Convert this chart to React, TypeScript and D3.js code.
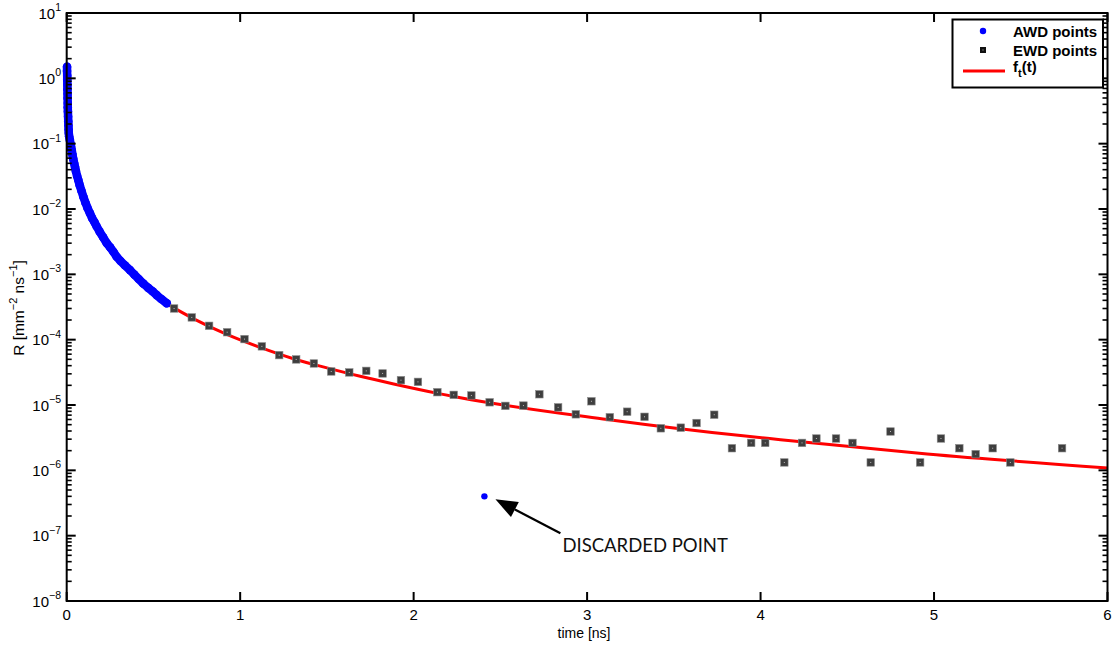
import React from 'react';
import * as d3 from 'd3';

// AWD points (time [ns], R)
const awdT = [0.002, 0.002, 0.003, 0.003, 0.004, 0.004, 0.005, 0.005, 0.006, 0.006, 0.007, 0.008, 0.009, 0.010, 0.011, 0.012, 0.014,
  0.018, 0.022, 0.025, 0.029, 0.033, 0.038, 0.043, 0.048, 0.053, 0.060, 0.067, 0.075, 0.085, 0.096, 0.108, 0.120, 0.134, 0.147,
  0.160, 0.173, 0.190, 0.210, 0.231, 0.250, 0.270, 0.288, 0.310, 0.335, 0.365, 0.390, 0.415, 0.442, 0.470, 0.495, 0.519, 0.545, 0.577];
const awdR = [1.5, 1.3, 1.1, 0.95, 0.8, 0.68, 0.58, 0.5, 0.42, 0.36, 0.31, 0.26, 0.22, 0.19, 0.165, 0.145, 0.13,
  0.115, 0.100, 0.090, 0.080, 0.068, 0.058, 0.050, 0.044, 0.038, 0.032, 0.0277, 0.023, 0.019, 0.0154, 0.0125, 0.0104, 0.0086, 0.0072,
  0.0063, 0.0054, 0.0045, 0.0037, 0.0030, 0.0026, 0.0022, 0.00186, 0.00160, 0.00138, 0.00116, 0.00099, 0.00085, 0.00072, 0.00062, 0.00055, 0.00048, 0.00042, 0.00036];

// EWD points
const ewdT = [0.619, 0.721, 0.821, 0.925, 1.025, 1.125, 1.225, 1.323, 1.425, 1.525, 1.629, 1.727, 1.821, 1.927, 2.025, 2.137, 2.231,
  2.333, 2.438, 2.529, 2.633, 2.725, 2.833, 2.935, 3.025, 3.131, 3.231, 3.331, 3.425, 3.54, 3.631, 3.733, 3.835, 3.946, 4.027,
  4.137, 4.239, 4.322, 4.435, 4.53, 4.635, 4.749, 4.92, 5.04, 5.146, 5.24, 5.338, 5.44, 5.738];
const ewdR = [3.0e-4, 2.19e-4, 1.63e-4, 1.30e-4, 1.02e-4, 7.9e-5, 5.8e-5, 4.98e-5, 4.32e-5, 3.26e-5, 3.15e-5, 3.33e-5, 3.04e-5, 2.4e-5,
  2.26e-5, 1.57e-5, 1.43e-5, 1.4e-5, 1.1e-5, 9.7e-6, 9.8e-6, 1.46e-5, 9.2e-6, 7.2e-6, 1.14e-5, 6.5e-6, 7.9e-6, 6.6e-6, 4.4e-6, 4.5e-6,
  5.3e-6, 7.1e-6, 2.18e-6, 2.63e-6, 2.63e-6, 1.32e-6, 2.63e-6, 3.07e-6, 3.07e-6, 2.63e-6, 1.32e-6, 3.93e-6, 1.32e-6, 3.07e-6, 2.18e-6,
  1.77e-6, 2.18e-6, 1.32e-6, 2.18e-6];

// fit f_t(t)
const fitT = [0.58, 0.73, 0.923, 1.115, 1.307, 1.5, 1.692, 1.885, 2.154, 2.27, 3.116, 3.885, 4.115, 4.96, 6.0];
const fitR = [3.5e-4, 2.1e-4, 1.2e-4, 7.6e-5, 5.1e-5, 3.7e-5, 2.75e-5, 2.1e-5, 1.48e-5, 1.29e-5, 6.0e-6, 3.4e-6, 2.95e-6, 1.78e-6, 1.09e-6];

// discarded point
const discT = [2.408];
const discR = [4.0e-7];

const xTicks = [0, 1, 2, 3, 4, 5, 6];
const yExps = [-8, -7, -6, -5, -4, -3, -2, -1, 0, 1];

const W = 1115, H = 645;
const L = 66.7, R = 1107.5, T = 13, B = 601;

export default function App() {
  const x = d3.scaleLinear().domain([0, 6]).range([L, R]);
  const y = d3.scaleLog().domain([1e-8, 10]).range([B, T]);

  const minor: number[] = [];
  for (let e = -8; e < 1; e++) for (let m = 2; m <= 9; m++) minor.push(m * Math.pow(10, e));

  const awdPts = awdT.map((t, i) => [x(t), y(awdR[i])] as [number, number]);
  const awdPath = d3.line().curve(d3.curveLinear)(awdPts) || '';
  const fitPath = d3.line<number>().x((_, i) => x(fitT[i])).y((_, i) => y(fitR[i])).curve(d3.curveMonotoneX)(fitT) || '';

  const font = '"Liberation Sans", Arial, Helvetica, sans-serif';

  // annotation
  const dx = x(discT[0]), dy = y(discR[0]);
  const tip = [dx + 11, dy + 3];
  const tail = [dx + 76, dy + 37];
  const ang = Math.atan2(tail[1] - tip[1], tail[0] - tip[0]);
  const hl = 22, hw = 8.5;
  const bx = tip[0] + hl * Math.cos(ang), by = tip[1] + hl * Math.sin(ang);
  const w1 = [bx - hw * Math.sin(ang), by + hw * Math.cos(ang)];
  const w2 = [bx + hw * Math.sin(ang), by - hw * Math.cos(ang)];

  return (
    <svg width={W} height={H} style={{ position: 'absolute', left: 0, top: 0, background: '#fff' }} fontFamily={font}>
      <rect x={0} y={0} width={W} height={H} fill="#fff" />
      {/* fit line */}
      <path d={fitPath} fill="none" stroke="#ff0000" strokeWidth={3} />
      {/* AWD */}
      <path d={awdPath} fill="none" stroke="#0000ff" strokeWidth={8.5} strokeLinecap="round" strokeLinejoin="round" />
      {awdPts.map((p, i) => (
        <circle key={'a' + i} cx={p[0]} cy={p[1]} r={4.3} fill="#0000ff" />
      ))}
      {/* EWD */}
      {ewdT.map((t, i) => (
        <g key={'e' + i}>
          <rect x={x(t) - 3.75} y={y(ewdR[i]) - 3.75} width={7.5} height={7.5} fill="#3e3e3e" stroke="#8a8a8a" strokeWidth={0.6} />
          <rect x={x(t) - 0.5} y={y(ewdR[i]) - 0.5} width={1} height={1} fill="#bbb" />
        </g>
      ))}
      {/* discarded */}
      <circle cx={dx} cy={dy} r={3.2} fill="#0000ff" />
      <line x1={tail[0]} y1={tail[1]} x2={bx} y2={by} stroke="#000" strokeWidth={2.2} />
      <polygon points={`${tip[0]},${tip[1]} ${w1[0]},${w1[1]} ${w2[0]},${w2[1]}`} fill="#000" />
      <text x={dx + 78} y={dy + 56} fontFamily="Lato, 'Open Sans', sans-serif" fontSize={18.5} fill="#111">DISCARDED POINT</text>

      {/* axes box */}
      <rect x={L} y={T} width={R - L} height={B - T} fill="none" stroke="#000" strokeWidth={2} />
      {/* y ticks */}
      {yExps.map(e => {
        const yy = y(Math.pow(10, e));
        return (
          <g key={'ym' + e}>
            <line x1={L} x2={L + 9} y1={yy} y2={yy} stroke="#000" strokeWidth={2} />
            <line x1={R} x2={R - 9} y1={yy} y2={yy} stroke="#000" strokeWidth={2} />
            <text x={61} y={yy + 5.5} textAnchor="end" fontSize={15} fill="#000">
              10<tspan dy={-7.5} fontSize={10.5}>{e < 0 ? '\u2212' + Math.abs(e) : String(e)}</tspan>
            </text>
          </g>
        );
      })}
      {minor.map((v, i) => {
        const yy = y(v);
        return (
          <g key={'yn' + i}>
            <line x1={L} x2={L + 5} y1={yy} y2={yy} stroke="#000" strokeWidth={1.6} />
            <line x1={R} x2={R - 5} y1={yy} y2={yy} stroke="#000" strokeWidth={1.6} />
          </g>
        );
      })}
      {/* x ticks */}
      {xTicks.map(t => (
        <g key={'x' + t}>
          <line x1={x(t)} x2={x(t)} y1={B} y2={B - 9} stroke="#000" strokeWidth={2} />
          <line x1={x(t)} x2={x(t)} y1={T} y2={T + 9} stroke="#000" strokeWidth={2} />
          <text x={x(t)} y={620} textAnchor="middle" fontSize={15} fill="#000">{t}</text>
        </g>
      ))}
      {/* axis titles */}
      <text x={584} y={638} textAnchor="middle" fontSize={14} fill="#000">time [ns]</text>
      <text transform="translate(24,308) rotate(-90)" textAnchor="middle" fontSize={15.5} fill="#000">
        R [mm<tspan dy={-7} fontSize={11}>{'\u22122'}</tspan><tspan dy={7}> ns</tspan><tspan dy={-7} fontSize={11}>{'\u22121'}</tspan><tspan dy={7}>]</tspan>
      </text>

      {/* legend */}
      <rect x={952.5} y={19.5} width={150.5} height={68} fill="#fff" stroke="#000" strokeWidth={2} />
      <circle cx={983} cy={31} r={3.2} fill="#0000ff" />
      <text x={1013} y={36.5} fontSize={15} fontWeight="bold" fill="#000">AWD points</text>
      <rect x={980} y={47} width={6} height={6} fill="#111" />
      <rect x={982.5} y={49.5} width={1} height={1} fill="#ccc" />
      <text x={1013} y={55.5} fontSize={15} fontWeight="bold" fill="#000">EWD points</text>
      <line x1={963} x2={1005} y1={71} y2={71} stroke="#ff0000" strokeWidth={3} />
      <text x={1013} y={72} fontSize={15} fontWeight="bold" fill="#000">f<tspan dy={5} fontSize={11}>t</tspan><tspan dy={-5}>(t)</tspan></text>
    </svg>
  );
}
